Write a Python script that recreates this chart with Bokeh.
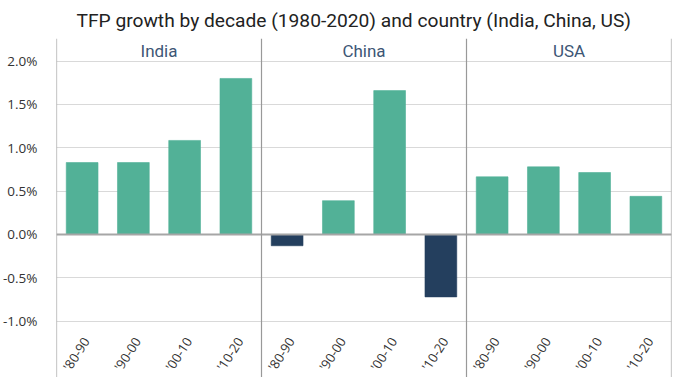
import math
from bokeh.plotting import figure
from bokeh.models import FactorRange, Span, FixedTicker, ColumnDataSource, CustomJSTickFormatter
from bokeh.core.properties import value
from bokeh.embed import file_html
from bokeh.resources import INLINE

# ---- data ----
countries = ["India", "China", "USA"]
decades = ["'80-90", "'90-00", "'00-10", "'10-20"]
india = [0.83, 0.83, 1.085, 1.80]
china = [-0.13, 0.39, 1.66, -0.72]
usa = [0.665, 0.78, 0.715, 0.44]
y_ticks = [-1.0, -0.5, 0.0, 0.5, 1.0, 1.5, 2.0]
title_text = "TFP growth by decade (1980-2020) and country (India, China, US)"

GREEN = "#52b197"
NAVY = "#243f5e"

series = {"India": india, "China": china, "USA": usa}
xs, vals, cols = [], [], []
for c in countries:
    for d, v in zip(decades, series[c]):
        xs.append((c, d))
        vals.append(v)
        cols.append(GREEN if v >= 0 else NAVY)
src = ColumnDataSource(dict(x=xs, top=vals, color=cols))

xr = FactorRange(*xs, factor_padding=0, group_padding=0, range_padding=0)

p = figure(x_range=xr, y_range=(-1.65, 2.261), frame_width=615, frame_height=339,
           output_backend="svg", toolbar_location=None,
           min_border_left=50, min_border_right=9, min_border_top=29, min_border_bottom=0)
p.outline_line_color = None
p.background_fill_color = "white"

p.title.text = title_text
p.title.align = "left"
p.title.offset = 20
p.title.standoff = 13
p.title.text_font = "Roboto"
p.title.text_font_size = "19.2px"
p.title.text_font_style = "normal"
p.title.text_color = "#222222"

# axes
p.xaxis.visible = False
p.xgrid.visible = False
p.yaxis.ticker = FixedTicker(ticks=y_ticks)
p.yaxis.formatter = CustomJSTickFormatter(code="return tick.toFixed(1) + '%';")
p.yaxis.axis_line_color = None
p.yaxis.major_tick_line_color = None
p.yaxis.minor_tick_line_color = None
p.yaxis.major_tick_out = 0
p.yaxis.major_tick_in = 0
p.yaxis.major_label_standoff = 19
p.yaxis.major_label_text_font = "Open Sans"
p.yaxis.major_label_text_font_size = "13.5px"
p.yaxis.major_label_text_color = "#333333"
p.ygrid.ticker = FixedTicker(ticks=y_ticks)
p.ygrid.grid_line_color = "#d9d9d9"
p.ygrid.grid_line_width = 1

# bars
p.vbar(x="x", top="top", bottom=0, width=0.62, source=src,
       fill_color="color", line_color="color", line_alpha=0.6)

# zero line
p.add_layout(Span(location=0, dimension="width", line_color="#a6a6a6", line_width=2))

# panel dividers (group boundaries in synthetic coordinates)
n = len(decades)
for i in range(len(countries) + 1):
    p.add_layout(Span(location=i * n, dimension="height", line_color="#999999", line_width=1.2))

# country headers
p.text(x=countries, y=[2.12] * len(countries), text=countries,
       text_align="center", text_baseline="middle",
       text_font=value("Roboto"), text_font_size="17px", text_color="#3d5675")

# decade labels
p.text(x=xs, y=[-1.2] * len(xs), text=[d for _, d in xs],
       angle=math.radians(57), text_align="right", text_baseline="middle",
       x_offset=4, text_font=value("Open Sans"), text_font_size="13px", text_color="#333333")

open("out.html", "w").write(file_html(p, INLINE))
